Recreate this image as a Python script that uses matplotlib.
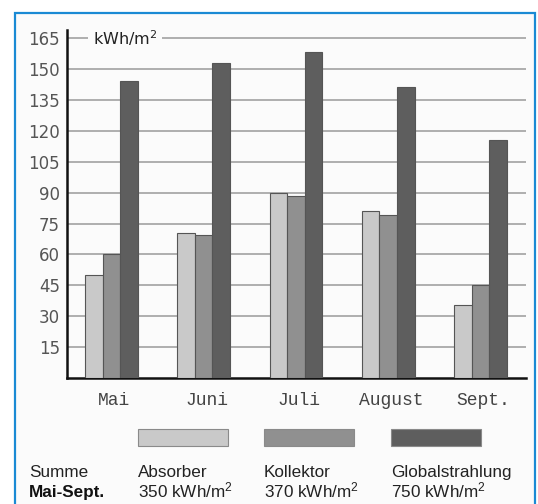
import matplotlib.pyplot as plt
import numpy as np
from matplotlib.patches import Rectangle

plt.rcParams['mathtext.default'] = 'regular'

# Monthly energy yield in kWh/m²
months = ['Mai', 'Juni', 'Juli', 'August', 'Sept.']
absorber = [50, 70.5, 90, 81, 35.5]
kollektor = [60, 69.5, 88.5, 79, 45]
global_rad = [144, 153, 158.5, 141.5, 115.5]

series_names = ['Absorber', 'Kollektor', 'Globalstrahlung']
series_totals = ['350 kWh/m$^2$', '370 kWh/m$^2$', '750 kWh/m$^2$']
yticks = [15, 30, 45, 60, 75, 90, 105, 120, 135, 150, 165]

colors = ['#c9c9c9', '#909090', '#5e5e5e']
bg_col = '#fbfbfb'

fig = plt.figure(figsize=(5.38, 5.04), dpi=100)

# background layer in pixel units (frame, legend swatches, footer text)
bg = fig.add_axes([0, 0, 1, 1], zorder=0)
bg.set_xlim(0, 538)
bg.set_ylim(504, 0)
bg.axis('off')
bg.add_patch(Rectangle((14.5, 12.5), 520, 500, facecolor=bg_col,
                       edgecolor='#1a8ad4', lw=1.6))

# bar chart
ax = fig.add_axes([67 / 538, 126 / 504, 459 / 538, 348 / 504], zorder=1)
ax.set_facecolor('none')
x = np.arange(len(months))
w = 0.19
for k, vals in enumerate([absorber, kollektor, global_rad]):
    ax.bar(x + (k - 1) * w, vals, width=w, color=colors[k],
           edgecolor='#555555', linewidth=0.8, zorder=3)

ax.set_xlim(-0.482, 4.493)
ax.set_ylim(0, 169)
ax.set_yticks(yticks)
ax.yaxis.grid(True, color='#a8a8a8', lw=1.3, zorder=0)
ax.set_axisbelow(True)
for s in ['top', 'right']:
    ax.spines[s].set_visible(False)
for s in ['left', 'bottom']:
    ax.spines[s].set_linewidth(1.8)
    ax.spines[s].set_color('#111111')
ax.tick_params(axis='y', length=0, pad=5, labelsize=12, labelcolor='#555555')
ax.set_xticks(x + 0.03)
ax.set_xticklabels(months, family='Liberation Mono', fontsize=13, color='#444444')
ax.tick_params(axis='x', length=0, pad=10)

ax.text(93, 38, 'kWh/m$^2$', transform=bg.transData, fontsize=11.5,
        color='#222222', va='center', ha='left', zorder=5,
        bbox=dict(boxstyle='square,pad=0.3', fc=bg_col, ec='none'))

# legend swatches with totals below
sw_x = [138, 264, 391]
for k in range(3):
    bg.add_patch(Rectangle((sw_x[k], 429), 90, 17, facecolor=colors[k],
                           edgecolor='#8a8a8a', lw=0.8))
    bg.text(sw_x[k], 477, series_names[k], family='Liberation Sans',
            fontsize=12.3, color='#222222', va='baseline')
    bg.text(sw_x[k], 497, series_totals[k], family='Liberation Sans',
            fontsize=12.3, color='#222222', va='baseline')

bg.text(29, 477, 'Summe', family='Liberation Sans', fontsize=12.3,
        color='#222222', va='baseline')
bg.text(29, 497, 'Mai-Sept.', family='Liberation Sans', fontsize=12.3,
        fontweight='bold', color='#111111', va='baseline')

fig.savefig('out.png', dpi=100, facecolor='white')
